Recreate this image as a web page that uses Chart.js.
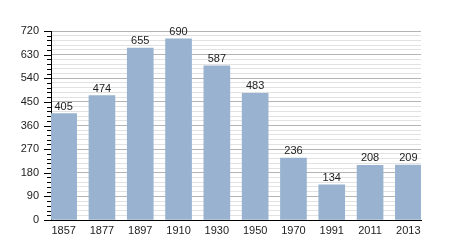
<!DOCTYPE html>
<html>
<head>
<meta charset="utf-8">
<script src="https://cdn.jsdelivr.net/npm/chart.js@4/dist/chart.umd.min.js"></script>
<style>
  html, body { margin: 0; padding: 0; background: #fff; }
  #wrap { width: 450px; height: 250px; }
</style>
</head>
<body>
<div id="wrap"><canvas id="chart" width="450" height="250"></canvas></div>
<script>
var years = ['1857', '1877', '1897', '1910', '1930', '1950', '1970', '1991', '2011', '2013'];
var population = [405, 474, 655, 690, 587, 483, 236, 134, 208, 209];
var yMax = 720;
var majorStep = 90;
var minorStep = 18;

var fontFamily = '"Liberation Sans", Arial, sans-serif';

// value labels on top of each bar
var barLabels = {
	id: 'barLabels',
	afterDatasetsDraw: function(chart) {
		var ctx = chart.ctx;
		var meta = chart.getDatasetMeta(0);
		ctx.save();
		ctx.font = '11px ' + fontFamily;
		ctx.fillStyle = '#222';
		ctx.textAlign = 'center';
		ctx.textBaseline = 'alphabetic';
		meta.data.forEach(function(bar, i) {
			ctx.fillText(String(population[i]), bar.x, bar.y - 4);
		});
		ctx.restore();
	}
};

// small tick marks on the left of the y axis, longer on the labelled ones
var yTickMarks = {
	id: 'yTickMarks',
	afterDraw: function(chart) {
		var ctx = chart.ctx;
		var y = chart.scales.y;
		var left = chart.chartArea.left;
		ctx.save();
		ctx.strokeStyle = '#000';
		ctx.lineWidth = 1;
		for (var v = 0; v <= yMax; v += minorStep) {
			var py = Math.round(y.getPixelForValue(v)) + 0.5;
			var len = (v % majorStep === 0) ? 7 : 4;
			ctx.beginPath();
			ctx.moveTo(left - len, py);
			ctx.lineTo(left, py);
			ctx.stroke();
		}
		ctx.restore();
	}
};

var points = population.map(function(v, i) {
	return { x: i, y: v };
});

var config = {
	type: 'bar',
	data: {
		datasets: [{
			data: points,
			backgroundColor: '#98b2cf',
			borderWidth: 0,
			barThickness: 26
		}]
	},
	options: {
		responsive: false,
		animation: false,
		layout: { padding: { left: 0, right: 29, top: 31, bottom: 0 } },
		plugins: {
			legend: { display: false },
			tooltip: { enabled: false }
		},
		scales: {
			x: {
				type: 'linear',
				offset: false,
				min: -0.33,
				max: 9.33,
				afterBuildTicks: function(scale) {
					scale.ticks = years.map(function(y, i) { return { value: i }; });
				},
				afterFit: function(scale) { scale.height = 30; },
				grid: { display: false, drawTicks: false, offset: false },
				border: { display: true, color: '#000', width: 1 },
				ticks: {
					autoSkip: false,
					maxRotation: 0,
					padding: 4,
					color: '#222',
					font: { family: fontFamily, size: 11 },
					callback: function(value) { return years[value]; }
				}
			},
			y: {
				min: 0,
				max: yMax,
				afterFit: function(scale) { scale.width = 51; },
				grid: {
					drawTicks: false,
					color: function(c) {
						return (c.tick.value % majorStep === 0) ? '#b4b4b4' : '#e2e2e2';
					}
				},
				border: { display: true, color: '#000', width: 1 },
				ticks: {
					stepSize: minorStep,
					autoSkip: false,
					padding: 12,
					color: '#222',
					font: { family: fontFamily, size: 11 },
					callback: function(value) {
						return (value % majorStep === 0) ? String(value) : '';
					}
				}
			}
		}
	},
	plugins: [barLabels, yTickMarks]
};

var ctx = document.getElementById('chart').getContext('2d');
window.popChart = new Chart(ctx, config);
</script>
</body>
</html>
